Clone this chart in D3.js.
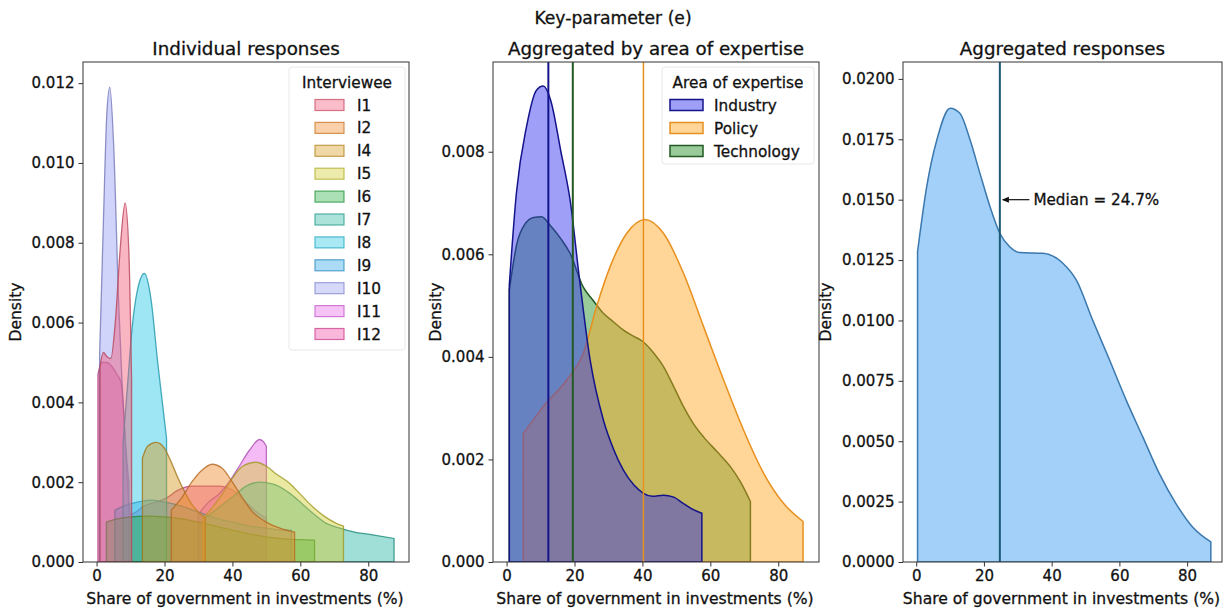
<!DOCTYPE html>
<html><head><meta charset="utf-8">
<script src="https://cdn.jsdelivr.net/npm/d3@7"></script>
<style>
body{margin:0;background:#fff}
svg{display:block}
text{font-family:"DejaVu Sans",sans-serif;fill:#111;stroke:#111;stroke-width:0.3px}
</style>
</head><body>
<svg id="c" width="1226" height="609"></svg>
<script>
// ---------- data ----------
const xTicks = [0, 20, 40, 60, 80];
const yTicksInd = [0, 0.002, 0.004, 0.006, 0.008, 0.010, 0.012];
const yTicksArea = [0, 0.002, 0.004, 0.006, 0.008];
const yTicksAgg = [0, 0.0025, 0.005, 0.0075, 0.010, 0.0125, 0.015, 0.0175, 0.020];

const interviewees = ["I1", "I2", "I4", "I5", "I6", "I7", "I8", "I9", "I10", "I11", "I12"];
const intervieweeColors = ["#f25a78", "#f08a2a", "#d69a20", "#d2cc30", "#2cb048", "#2cb8a6", "#28c8e4", "#30a4e6", "#9aa0f4", "#e868ec", "#f04aa6"];

const i1X = [1, 2, 3, 4.2, 5.5, 7, 8.4, 9.5, 10.3];
const i1D = [0.0049, 0.00525, 0.00515, 0.0051, 0.006, 0.0079, 0.009, 0.0078, 0.0046];
const i2X = [22, 25, 28, 31, 34, 37, 40, 43, 46, 50, 54, 58.3];
const i2D = [0.0013, 0.0016, 0.002, 0.0023, 0.00245, 0.00235, 0.002, 0.0016, 0.00125, 0.001, 0.00085, 0.00075];
const i4X = [13.5, 15, 17.6, 20, 22, 24, 26, 28, 30, 32];
const i4D = [0.0026, 0.0029, 0.003, 0.00285, 0.0025, 0.0021, 0.00175, 0.00145, 0.00125, 0.0011];
const i5X = [31.3, 34, 37, 40, 43, 47, 50, 53, 56.9, 60, 63.7, 67, 70.6, 72.7];
const i5D = [0.0011, 0.00135, 0.0017, 0.0021, 0.0024, 0.0025, 0.0024, 0.0022, 0.00197, 0.0017, 0.00138, 0.00115, 0.00097, 0.0009];
const i6X = [2.9, 6, 10, 15, 20, 25, 30, 35, 40, 45, 50, 55, 60, 64.2];
const i6D = [0.001, 0.00108, 0.00113, 0.00115, 0.00113, 0.00108, 0.001, 0.0009, 0.0008, 0.0007, 0.00063, 0.00058, 0.00056, 0.00055];
const i7X = [32, 35, 38, 41, 44, 48, 52, 56.9, 60, 63.7, 67, 71.6, 76, 81.3, 87.6];
const i7D = [0.0011, 0.0013, 0.0015, 0.0017, 0.0019, 0.002, 0.00195, 0.00172, 0.0015, 0.00122, 0.001, 0.00085, 0.00075, 0.00068, 0.00059];
const i8X = [7.8, 9, 10.5, 12, 14.1, 16, 18, 19.5, 20.6];
const i8D = [0.003, 0.0043, 0.0059, 0.0068, 0.00723, 0.0066, 0.005, 0.0039, 0.0031];
const i9X = [5.4, 8, 12, 16, 20, 25, 30, 35, 40, 45, 50, 54, 57.4];
const i9D = [0.0013, 0.0014, 0.0015, 0.00155, 0.0015, 0.0014, 0.00125, 0.0011, 0.001, 0.0009, 0.00085, 0.0008, 0.0008];
const i10X = [0.9, 2, 3, 3.9, 5, 6.5, 7.5, 8.5, 9.5];
const i10D = [0.0052, 0.0085, 0.0112, 0.0119, 0.0105, 0.0065, 0.0045, 0.003, 0.002];
const i11X = [30, 33, 36, 39, 42, 45, 48, 49.3, 50];
const i11D = [0.0012, 0.0015, 0.0017, 0.002, 0.0024, 0.0028, 0.00307, 0.003, 0.0029];
const i12X = [0.4, 1.5, 3, 4.5, 6, 7.2, 10, 14, 20.5, 24, 28, 32, 36, 40, 44, 48, 50];
const i12D = [0.0047, 0.005, 0.005, 0.0049, 0.0047, 0.0045, 0.0012, 0.0014, 0.0016, 0.0018, 0.0019, 0.0019, 0.0019, 0.0018, 0.0015, 0.0012, 0.0011];

const areas = ["Industry", "Policy", "Technology"];
const areaFill = ["#2a2af0", "#ffa51a", "#1c8a1c"];
const areaStroke = ["#14148a", "#e8901e", "#235a23"];
const industryX = [0.8, 2.9, 5.9, 8.8, 10.8, 13, 16, 18.7, 21.5, 24.6, 28.5, 31.5, 34.4, 37.5, 40.3, 43, 46.2, 49, 52.1, 55, 57.5];
const industryD = [0.0054, 0.0072, 0.0085, 0.0092, 0.00928, 0.009, 0.008, 0.00706, 0.0055, 0.00394, 0.00277, 0.0022, 0.00179, 0.0015, 0.00134, 0.00128, 0.0013, 0.00127, 0.00114, 0.00102, 0.00095];
const policyX = [4.9, 10.8, 17.7, 22.6, 26.5, 30.5, 35.4, 40.8, 46.2, 52.1, 58, 63.9, 69.8, 75.7, 81.6, 87.3];
const policyD = [0.0025, 0.00303, 0.00355, 0.00407, 0.00498, 0.00576, 0.00641, 0.00668, 0.00641, 0.00563, 0.00459, 0.00355, 0.00257, 0.00173, 0.00114, 0.00079];
const technologyX = [0.8, 3, 5.5, 8, 10.3, 13, 16, 18.7, 22.5, 25.5, 28.5, 31.5, 34.4, 37.5, 40.3, 43, 46.2, 49, 52.1, 55, 58, 62, 65.9, 69, 71.8];
const technologyD = [0.0053, 0.0062, 0.0066, 0.00672, 0.00673, 0.00655, 0.0063, 0.00602, 0.00537, 0.0051, 0.00485, 0.00468, 0.00452, 0.0044, 0.00429, 0.0041, 0.00381, 0.00345, 0.00303, 0.0027, 0.00244, 0.00215, 0.00186, 0.00155, 0.00118];
const areaMedians = [12.3, 40.3, 19.5];

const aggX = [0.4, 3.1, 6.1, 10, 12.9, 15.9, 18.8, 21.8, 24.7, 27.6, 30.6, 37.4, 43.3, 47.3, 52.1, 57.1, 62, 66.9, 71.8, 76.7, 81.6, 87];
const aggD = [0.01285, 0.01554, 0.01748, 0.01879, 0.01858, 0.01748, 0.0161, 0.01471, 0.01361, 0.01305, 0.01281, 0.01278, 0.01237, 0.01167, 0.01002, 0.00836, 0.0067, 0.00518, 0.00366, 0.00242, 0.00145, 0.00083];
const aggMedian = 24.7;

// ---------- drawing ----------
const svg = d3.select("#c");

svg.append("text").attr("x", 613).attr("y", 24).attr("text-anchor", "middle")
  .attr("font-size", 17.2).text("Key-parameter (e)");

function makePanel(p) {
  const x = d3.scaleLinear().domain(p.xDomain).range([p.left, p.right]);
  const y = d3.scaleLinear().domain(p.yDomain).range([562, 62]);
  const g = svg.append("g");
  g.append("clipPath").attr("id", p.id).append("rect")
    .attr("x", p.left).attr("y", 62).attr("width", p.right - p.left).attr("height", 500);
  const plot = g.append("g").attr("clip-path", `url(#${p.id})`);
  const ax = g.append("g").attr("transform", "translate(0,562)")
    .call(d3.axisBottom(x).tickValues(xTicks).tickSize(4.5).tickPadding(4));
  const ay = g.append("g").attr("transform", `translate(${p.left},0)`)
    .call(d3.axisLeft(y).tickValues(p.yTicks).tickFormat(d3.format(p.fmt)).tickSize(4.5).tickPadding(4));
  [ax, ay].forEach(a => {
    a.select(".domain").remove();
    a.selectAll("line").attr("stroke", "#333").attr("stroke-width", 1);
    a.selectAll("text").attr("font-size", 15).attr("fill", "#111").attr("font-family", "DejaVu Sans, sans-serif");
  });
  g.append("text").attr("x", (p.left + p.right) / 2).attr("y", 55).attr("text-anchor", "middle")
    .attr("font-size", 18.3).text(p.title);
  g.append("text").attr("x", (p.left + p.right) / 2 - 1).attr("y", 604).attr("text-anchor", "middle")
    .attr("font-size", 15.6).text("Share of government in investments (%)");
  g.append("text").attr("transform", `translate(${p.labelX},312) rotate(-90)`).attr("text-anchor", "middle")
    .attr("font-size", 15.5).text("Density");
  return {x, y, g, plot, frame: () => g.append("rect").attr("x", p.left).attr("y", 62)
    .attr("width", p.right - p.left).attr("height", 500).attr("fill", "none").attr("stroke", "#333").attr("stroke-width", 1)};
}

function areaGen(P) {
  return d3.area().x(d => P.x(d[0])).y0(P.y(0)).y1(d => P.y(d[1])).curve(d3.curveMonotoneX);
}

// Panel 1: individual responses (drawn in reverse order, first level on top)
const P1 = makePanel({id: "c1", left: 83, right: 409, xDomain: [-4, 92], yDomain: [0, 0.01253],
  yTicks: yTicksInd, fmt: ".3f", title: "Individual responses", labelX: 21});
const indSeries = [
  [i1X, i1D], [i2X, i2D], [i4X, i4D], [i5X, i5D], [i6X, i6D], [i7X, i7D],
  [i8X, i8D], [i9X, i9D], [i10X, i10D], [i11X, i11D], [i12X, i12D]
];
for (let i = indSeries.length - 1; i >= 0; i--) {
  const s = indSeries[i];
  const pts = s[0].map((v, k) => [v, s[1][k]]);
  P1.plot.append("path").attr("d", areaGen(P1)(pts))
    .attr("fill", intervieweeColors[i]).attr("fill-opacity", 0.45)
    .attr("stroke", d3.color(intervieweeColors[i]).darker(0.8)).attr("stroke-opacity", 0.8).attr("stroke-width", 1.3);
}
P1.frame();
{
  const lg = P1.g.append("g");
  lg.append("rect").attr("x", 289).attr("y", 67).attr("width", 116).attr("height", 283).attr("rx", 3)
    .attr("fill", "#fff").attr("fill-opacity", 0.8).attr("stroke", "#e8e8e8");
  lg.append("text").attr("x", 347).attr("y", 88).attr("text-anchor", "middle").attr("font-size", 15.3).text("Interviewee");
  interviewees.forEach((n, i) => {
    const cy = 105 + i * 22.9;
    lg.append("rect").attr("x", 315).attr("y", cy - 5.5).attr("width", 29).attr("height", 11)
      .attr("fill", intervieweeColors[i]).attr("fill-opacity", 0.4)
      .attr("stroke", d3.color(intervieweeColors[i]).darker(0.5)).attr("stroke-opacity", 0.75).attr("stroke-width", 1.2);
    lg.append("text").attr("x", 357).attr("y", cy + 5.5).attr("font-size", 15.3).text(n);
  });
}

// Panel 2: by area of expertise
const P2 = makePanel({id: "c2", left: 493, right: 819, xDomain: [-4, 92], yDomain: [0, 0.00975],
  yTicks: yTicksArea, fmt: ".3f", title: "Aggregated by area of expertise", labelX: 441});
const areaSeries = [[industryX, industryD], [policyX, policyD], [technologyX, technologyD]];
[2, 1, 0].forEach(i => {
  const s = areaSeries[i];
  const pts = s[0].map((v, k) => [v, s[1][k]]);
  P2.plot.append("path").attr("d", areaGen(P2)(pts))
    .attr("fill", areaFill[i]).attr("fill-opacity", 0.45)
    .attr("stroke", areaStroke[i]).attr("stroke-width", 1.5);
});
[0, 2, 1].forEach(i => {
  P2.plot.append("line").attr("x1", P2.x(areaMedians[i])).attr("x2", P2.x(areaMedians[i]))
    .attr("y1", 562).attr("y2", 62).attr("stroke", areaStroke[i]).attr("stroke-width", i === 1 ? 1.5 : 2);
});
P2.frame();
{
  const lg = P2.g.append("g");
  lg.append("rect").attr("x", 662).attr("y", 67).attr("width", 152).attr("height", 97).attr("rx", 3)
    .attr("fill", "#fff").attr("fill-opacity", 0.8).attr("stroke", "#e8e8e8");
  lg.append("text").attr("x", 738).attr("y", 88).attr("text-anchor", "middle").attr("font-size", 15.3).text("Area of expertise");
  areas.forEach((n, i) => {
    const cy = 105 + i * 23;
    lg.append("rect").attr("x", 670).attr("y", cy - 5.5).attr("width", 33).attr("height", 11)
      .attr("fill", areaFill[i]).attr("fill-opacity", 0.45).attr("stroke", areaStroke[i]).attr("stroke-width", 1.5);
    lg.append("text").attr("x", 714).attr("y", cy + 5.5).attr("font-size", 15.3).text(n);
  });
}

// Panel 3: aggregated
const P3 = makePanel({id: "c3", left: 903, right: 1222, xDomain: [-3.9, 90.3], yDomain: [0, 0.0207],
  yTicks: yTicksAgg, fmt: ".4f", title: "Aggregated responses", labelX: 831});
{
  const pts = aggX.map((v, k) => [v, aggD[k]]);
  P3.plot.append("path").attr("d", areaGen(P3)(pts))
    .attr("fill", "#a2d0f8").attr("stroke", "#3b78ad").attr("stroke-width", 1.5);
  P3.plot.append("line").attr("x1", P3.x(aggMedian)).attr("x2", P3.x(aggMedian))
    .attr("y1", 562).attr("y2", 62).attr("stroke", "#1c5a78").attr("stroke-width", 2);
  const ay = P3.y(0.015), ax0 = P3.x(aggMedian) + 2, tx = P3.x(34.6);
  P3.g.append("line").attr("x1", tx - 4).attr("x2", ax0 + 1).attr("y1", ay).attr("y2", ay)
    .attr("stroke", "#111").attr("stroke-width", 1.2);
  P3.g.append("path").attr("d", `M${ax0},${ay} L${ax0 + 7},${ay - 3} L${ax0 + 7},${ay + 3} Z`).attr("fill", "#111");
  P3.g.append("text").attr("x", tx).attr("y", ay + 5).attr("font-size", 15.2).text("Median = 24.7%");
}
P3.frame();
</script>
</body></html>
